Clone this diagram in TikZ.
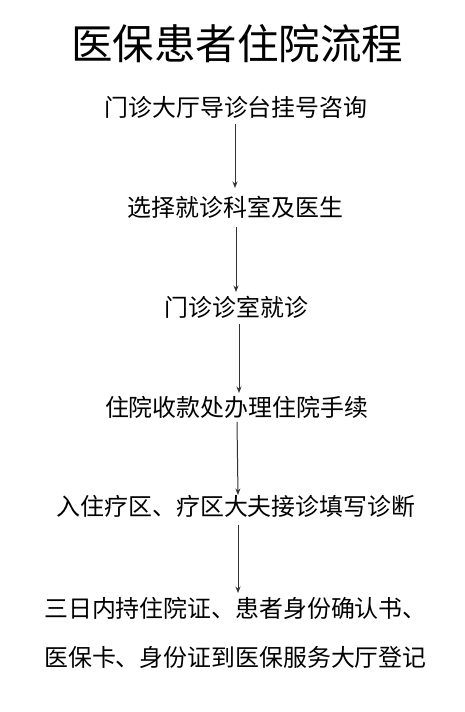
\documentclass[tikz,border=0pt]{standalone}
\usepackage{fontspec}
\setmainfont{Noto Sans CJK SC}
\usetikzlibrary{arrows.meta}
\begin{document}
\begin{tikzpicture}[x=1pt,y=-1pt,
  steptext/.style={inner sep=0pt,anchor=base,font=\fontsize{23.9}{28}\selectfont},
  titletext/.style={inner sep=0pt,anchor=base,font=\fontsize{41.5}{48}\selectfont},
  arr/.style={draw=black!80,line width=1pt,-{Stealth[length=6.5pt,width=5pt]}}]
\useasboundingbox[fill=white] (0,0) rectangle (465,712);
\node[titletext] (title) at (237,59.5) {医保患者住院流程};
\node[steptext] (s1) at (236,116.5) {门诊大厅导诊台挂号咨询};
\node[steptext] (s2) at (235.5,216) {选择就诊科室及医生};
\node[steptext] (s3) at (236.5,316.5) {门诊诊室就诊};
\node[steptext] (s4) at (236.5,416) {住院收款处办理住院手续};
\node[steptext] (s5) at (236,515) {入住疗区、疗区大夫接诊填写诊断};
\node[steptext,anchor=base west] (s6) at (44,617) {三日内持住院证、患者身份确认书、};
\node[steptext,anchor=base west] (s7) at (44,666) {医保卡、身份证到医保服务大厅登记};
\coordinate (a1s) at (235,124); \coordinate (a1e) at (235,188);
\coordinate (a2s) at (236,227); \coordinate (a2e) at (236,292);
\coordinate (a3s) at (239,324); \coordinate (a3e) at (239,393);
\coordinate (a4s) at (237,422); \coordinate (a4e) at (238,495);
\coordinate (a5s) at (238,525); \coordinate (a5e) at (238,593);
\draw[arr] (a1s) -- (a1e);
\draw[arr] (a2s) -- (a2e);
\draw[arr] (a3s) -- (a3e);
\draw[arr] (a4s) -- (a4e);
\draw[arr] (a5s) -- (a5e);
\end{tikzpicture}
\end{document}
